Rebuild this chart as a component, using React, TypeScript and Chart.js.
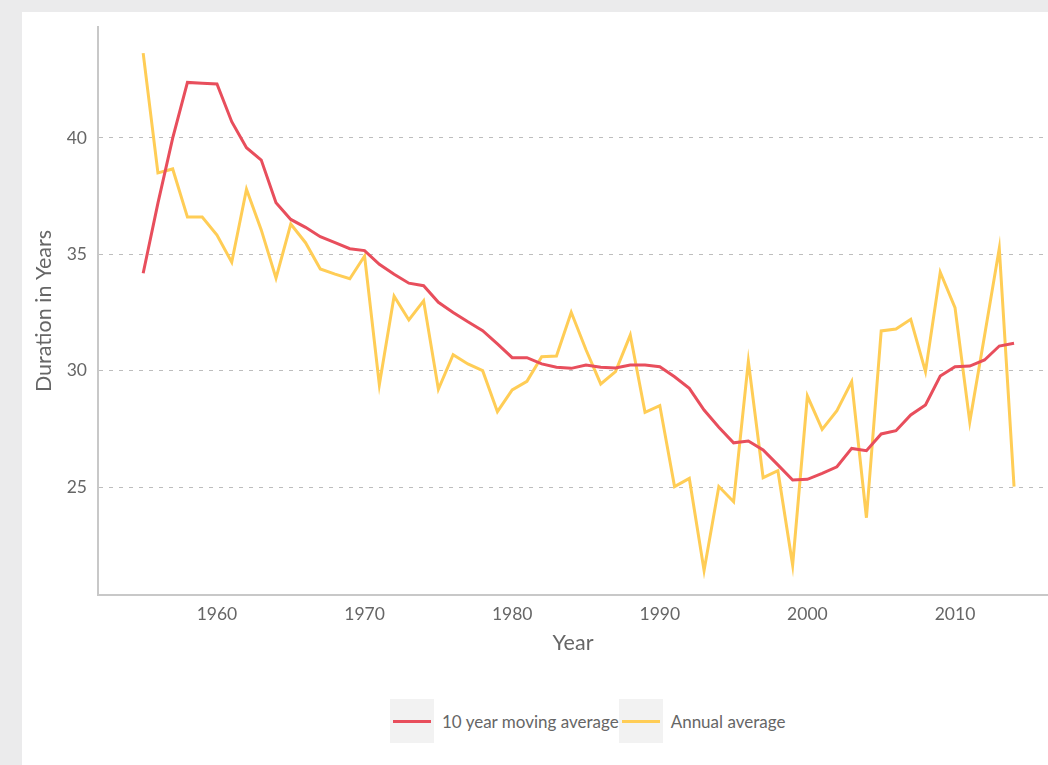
import React, { useEffect, useRef } from "react";
import { Chart, registerables } from "chart.js";

Chart.register(...registerables);

const years: number[] = [
  1955, 1956, 1957, 1958, 1959, 1960, 1961, 1962, 1963, 1964,
  1965, 1966, 1967, 1968, 1969, 1970, 1971, 1972, 1973, 1974,
  1975, 1976, 1977, 1978, 1979, 1980, 1981, 1982, 1983, 1984,
  1985, 1986, 1987, 1988, 1989, 1990, 1991, 1992, 1993, 1994,
  1995, 1996, 1997, 1998, 1999, 2000, 2001, 2002, 2003, 2004,
  2005, 2006, 2007, 2008, 2009, 2010, 2011, 2012, 2013, 2014,
];

const movingAverage: number[] = [
  34.19, 37.2, 39.99, 42.39, 42.35, 42.32, 40.7, 39.58, 39.05, 37.22,
  36.5, 36.16, 35.76, 35.5, 35.24, 35.16, 34.57, 34.14, 33.76, 33.65,
  32.94, 32.5, 32.1, 31.72, 31.15, 30.56, 30.56, 30.29, 30.15, 30.1,
  30.24, 30.15, 30.12, 30.24, 30.24, 30.17, 29.74, 29.24, 28.31, 27.57,
  26.9, 26.98, 26.59, 25.95, 25.3, 25.33, 25.59, 25.87, 26.66, 26.56,
  27.28, 27.42, 28.1, 28.53, 29.77, 30.17, 30.2, 30.46, 31.06, 31.18,
];

const annualAverage: number[] = [
  43.65, 38.5, 38.67, 36.6, 36.6, 35.83, 34.66, 37.8, 36.05, 33.98,
  36.3, 35.5, 34.37, 34.15, 33.95, 34.93, 29.4, 33.2, 32.18, 33.0,
  29.2, 30.69, 30.29, 30.0, 28.24, 29.17, 29.54, 30.6, 30.63, 32.51,
  30.9, 29.43, 29.96, 31.53, 28.21, 28.5, 25.02, 25.37, 21.41, 25.02,
  24.37, 30.4, 25.4, 25.7, 21.65, 28.91, 27.48, 28.28, 29.53, 23.68,
  31.71, 31.79, 32.21, 29.96, 34.23, 32.71, 27.8, 31.5, 35.26, 25.02,
];

const xTicks: number[] = [1960, 1970, 1980, 1990, 2000, 2010];
const yTicks: number[] = [25, 30, 35, 40];

const seriesNames: string[] = ["10 year moving average", "Annual average"];
const seriesColors: string[] = ["#e84e5c", "#ffcd56"];

const TEXT = "#666666";
const FONT = "Lato, 'Open Sans', sans-serif";

export default function App() {
  const canvasRef = useRef<HTMLCanvasElement | null>(null);

  useEffect(() => {
    document.body.style.margin = "0";
    const canvas = canvasRef.current;
    if (!canvas) return;
    Chart.defaults.font.family = FONT;
    Chart.defaults.color = TEXT;
    const chart = new Chart(canvas, {
      type: "line",
      data: {
        datasets: [
          {
            label: seriesNames[0],
            data: years.map((x, i) => ({ x, y: movingAverage[i] })),
            borderColor: seriesColors[0],
            backgroundColor: seriesColors[0],
            borderWidth: 3,
            pointRadius: 0,
            tension: 0,
          },
          {
            label: seriesNames[1],
            data: years.map((x, i) => ({ x, y: annualAverage[i] })),
            borderColor: seriesColors[1],
            backgroundColor: seriesColors[1],
            borderWidth: 3,
            pointRadius: 0,
            tension: 0,
          },
        ],
      },
      options: {
        animation: false,
        responsive: false,
        maintainAspectRatio: false,
        devicePixelRatio: 1,
        layout: { padding: { top: 15, left: 0, right: 0, bottom: 0 } },
        plugins: {
          legend: { display: false },
          tooltip: { enabled: false },
        },
        scales: {
          x: {
            type: "linear",
            min: 1951.94,
            max: 2016.3,
            afterBuildTicks: (scale: any) => {
              scale.ticks = xTicks.map((v) => ({ value: v }));
            },
            afterFit: (scale: any) => {
              scale.height = 77;
              scale.paddingLeft = 0;
              scale.paddingRight = 0;
            },
            grid: { display: false, drawTicks: false },
            border: { display: true, color: "#c8c8c8", width: 2 },
            ticks: {
              callback: (v: any) => String(v),
              font: { size: 17.5, family: FONT },
              color: TEXT,
              padding: 9,
              maxRotation: 0,
              autoSkip: false,
            },
            title: {
              display: true,
              text: "Year",
              font: { size: 21.5, family: FONT },
              color: TEXT,
              padding: { top: 0, bottom: 16 },
            },
          },
          y: {
            type: "linear",
            min: 20.36,
            max: 44.77,
            afterBuildTicks: (scale: any) => {
              scale.ticks = yTicks.map((v) => ({ value: v }));
            },
            afterFit: (scale: any) => {
              scale.width = 76;
              scale.paddingTop = 0;
              scale.paddingBottom = 0;
            },
            grid: { color: "#bdbdbd", lineWidth: 1, drawTicks: false },
            border: { display: true, color: "#c8c8c8", width: 2, dash: [4, 6] },
            ticks: {
              callback: (v: any) => String(v),
              font: { size: 17.5, family: FONT },
              color: TEXT,
              padding: 11,
            },
            title: {
              display: true,
              text: "Duration in Years",
              font: { size: 21.5, family: FONT },
              color: TEXT,
              padding: { top: 9, bottom: 0 },
            },
          },
        },
      },
    });
    return () => chart.destroy();
  }, []);

  const legendItem = (i: number) => (
    <div key={i} style={{ display: "flex", alignItems: "center" }}>
      <div
        style={{
          width: 44,
          height: 44,
          background: "#f2f2f2",
          display: "flex",
          alignItems: "center",
          justifyContent: "center",
        }}
      >
        <div style={{ width: 38, height: 3, background: seriesColors[i] }} />
      </div>
      <span style={{ marginLeft: 8, fontSize: 17, color: TEXT, whiteSpace: "nowrap" }}>
        {seriesNames[i]}
      </span>
    </div>
  );

  return (
    <div
      style={{
        position: "relative",
        width: 1048,
        height: 765,
        background: "#ebebec",
        overflow: "hidden",
        fontFamily: FONT,
      }}
    >
      <div
        style={{
          position: "absolute",
          left: 22,
          top: 12,
          width: 1026,
          height: 753,
          background: "#ffffff",
        }}
      >
        <canvas
          ref={canvasRef}
          width={1026}
          height={660}
          style={{ position: "absolute", left: 0, top: 0, width: 1026, height: 660 }}
        />
        <div
          style={{
            position: "absolute",
            left: 368,
            top: 687,
            display: "flex",
            alignItems: "center",
          }}
        >
          {legendItem(0)}
          {legendItem(1)}
        </div>
      </div>
    </div>
  );
}
